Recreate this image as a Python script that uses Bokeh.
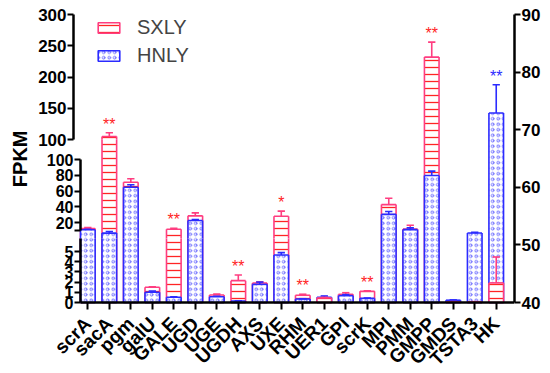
import math
from bokeh.plotting import figure
from bokeh.models import (Range1d, LinearAxis, FixedTicker, ColumnDataSource,
                          Legend, LegendItem, Title)
from bokeh.embed import file_html
from bokeh.resources import INLINE

# ---------------- data ----------------
genes = ["scrA", "sacA", "pgm", "galU", "GALE", "UGD", "UGE", "UGDH", "AXS", "UXE",
         "RHM", "UER1", "GPI", "scrK", "MPI", "PMM", "GMPP", "GMDS", "TSTA3", "HK"]
# first 14 genes read on the left (broken) FPKM axis, last 6 on the right axis
axis_side = ["left"] * 14 + ["right"] * 6
sxly = [12.8, 105.3, 71.3, 1.49, 11.9, 28.8, 0.74, 2.14, 1.91, 28.3, 0.71, 0.45, 0.80, 1.10,
        57.0, 52.75, 82.6, 40.1, 40.1, 43.4]
sxly_err = [1.2, 6.0, 4.3, 0.05, 1.3, 3.8, 0.08, 0.56, 0.12, 6.4, 0.10, 0.05, 0.16, 0.05,
            1.1, 0.65, 2.6, 0.05, 0.05, 4.5]
hnly = [11.2, 7.0, 65.0, 1.00, 0.51, 22.9, 0.57, 0.15, 1.78, 4.66, 0.34, 0.51, 0.67, 0.41,
        55.3, 52.65, 62.06, 40.4, 52.07, 72.9]
hnly_err = [0.6, 2.0, 3.0, 0.12, 0.05, 1.3, 0.05, 0.02, 0.22, 0.23, 0.03, 0.13, 0.10, 0.03,
            0.5, 0.3, 0.75, 0.05, 0.1, 4.9]
sxly_sig = ["", "**", "", "", "**", "", "", "**", "", "*", "**", "", "", "**",
            "", "", "**", "", "", ""]
hnly_sig = [""] * 19 + ["**"]

left_top_ticks = [100, 150, 200, 250, 300]
left_mid_ticks = [10, 20, 40, 60, 80, 100]
left_bot_ticks = [0, 1, 2, 3, 4, 5]
right_ticks = [40, 50, 60, 70, 80, 90]

# ---------------- styles ----------------
PINK = "#ff3d80"
RED = "#ff2424"
BLUE = "#2b2bff"
FONT = "Liberation Sans"
FH = 369    # frame height in px (frame reaches canvas bottom so axis labels are not clipped)
BASE = 71   # px from frame bottom up to the bar baseline
W = 0.68
CAP = 0.34

series_style = {
    "SXLY": dict(line=PINK, hatch="horizontal_line", hcolor=RED, hscale=7.0, hweight=1.3, sig=RED),
    "HNLY": dict(line=BLUE, hatch="ring", hcolor="#3a3aff", hscale=5.5, hweight=0.75, sig=BLUE),
}


def seg_range(v0, px0, v1, px1):
    """Linear range whose value v0 sits px0 above the baseline and v1 sits px1 above it."""
    k = (px1 - px0) / (v1 - v0)
    start = v0 - (px0 + BASE) / k
    return Range1d(start, start + FH / k)


def at_px(r, px):
    return r.start + (px + BASE) * (r.end - r.start) / FH


r_main = seg_range(40, 0, 90, 288)
r_bot = seg_range(0, 0, 5, 51)
r_mid = seg_range(20, 79.7, 100, 143)
r_top = seg_range(100, 162.7, 300, 288)

p = figure(frame_width=482, frame_height=FH, x_range=Range1d(-2.574, 19.85),
           y_range=r_main, output_backend="svg", toolbar_location=None,
           min_border_left=32, min_border_right=36, min_border_top=4, min_border_bottom=0)
p.extra_y_ranges = {"bot": r_bot, "mid": r_mid, "top": r_top}
p.xgrid.visible = False
p.ygrid.visible = False
p.outline_line_color = None

J1, J2 = 64, 162.7
left_segs = [("bot", 0, at_px(r_bot, J1)), ("mid", at_px(r_mid, J1), at_px(r_mid, J2)),
             ("top", 100, 300)]
left_limits = [at_px(r_bot, J1), 100, float("inf")]
right_segs = [("default", 40, 90)]

store = {}


def bucket(layer, rname):
    key = (layer, rname)
    if key not in store:
        store[key] = dict(fill=dict(x=[], bottom=[], top=[], hatch=[], hc=[], hs=[], hw=[]),
                          seg=dict(x0=[], y0=[], x1=[], y1=[], color=[]),
                          txt=dict(x=[], y=[], text=[], color=[]))
    return store[key]


def add_bar(layer, i, name, v, e, sig):
    st = series_style[name]
    if axis_side[i] == "left":
        segs = left_segs
        k = next(j for j, lim in enumerate(left_limits) if v <= lim)
    else:
        segs = right_segs
        k = 0
    for j in range(k + 1):
        rname, lo, hi = segs[j]
        top = v if j == k else hi
        b = bucket(layer, rname)
        f = b["fill"]
        f["x"].append(i); f["bottom"].append(lo); f["top"].append(top)
        f["hatch"].append(st["hatch"]); f["hc"].append(st["hcolor"])
        f["hs"].append(st["hscale"]); f["hw"].append(st["hweight"])
        s = b["seg"]
        for xx in (i - W / 2, i + W / 2):
            s["x0"].append(xx); s["x1"].append(xx); s["y0"].append(lo); s["y1"].append(top)
            s["color"].append(st["line"])
        if j == 0:
            s["x0"].append(i - W / 2); s["x1"].append(i + W / 2)
            s["y0"].append(lo); s["y1"].append(lo); s["color"].append(st["line"])
        if j == k:
            s["x0"].append(i - W / 2); s["x1"].append(i + W / 2)
            s["y0"].append(v); s["y1"].append(v); s["color"].append(st["line"])
            s["x0"].append(i); s["x1"].append(i)
            s["y0"].append(v); s["y1"].append(v + e); s["color"].append(st["line"])
            s["x0"].append(i - CAP / 2); s["x1"].append(i + CAP / 2)
            s["y0"].append(v + e); s["y1"].append(v + e); s["color"].append(st["line"])
            if sig:
                t = b["txt"]
                t["x"].append(i); t["y"].append(v + e); t["text"].append(sig)
                t["color"].append(st["sig"])


for i in range(len(genes)):
    bars = [("SXLY", sxly[i], sxly_err[i], sxly_sig[i]),
            ("HNLY", hnly[i], hnly_err[i], hnly_sig[i])]
    bars.sort(key=lambda b: -b[1])  # larger bar behind
    add_bar("back", i, *bars[0])
    add_bar("front", i, *bars[1])

for layer in ("back", "front"):
    for (lay, rname), b in store.items():
        if lay != layer:
            continue
        if b["fill"]["x"]:
            p.vbar(x="x", width=W, bottom="bottom", top="top", fill_color="white",
                   line_color=None, hatch_pattern="hatch", hatch_color="hc",
                   hatch_scale="hs", hatch_weight="hw",
                   source=ColumnDataSource(b["fill"]), y_range_name=rname)
        if b["seg"]["x0"]:
            p.segment(x0="x0", y0="y0", x1="x1", y1="y1", line_color="color", line_width=1.6,
                      source=ColumnDataSource(b["seg"]), y_range_name=rname)

for (lay, rname), b in store.items():
    if b["txt"]["x"]:
        p.text(x="x", y="y", text="text", text_color="color", text_align="center",
               text_baseline="bottom", text_font_size="16px", text_font={"value": FONT},
               source=ColumnDataSource(b["txt"]), y_range_name=rname)


# ---------------- axes ----------------
def style_axis(ax, size="16px"):
    ax.axis_line_width = 2.5
    ax.axis_line_color = "black"
    ax.major_tick_line_width = 2
    ax.major_tick_out = 6
    ax.major_tick_in = 0
    ax.minor_tick_line_color = None
    ax.major_label_text_font = FONT
    ax.major_label_text_font_style = "bold"
    ax.major_label_text_font_size = size
    ax.major_label_text_color = "black"
    ax.major_label_standoff = 1


p.yaxis[0].visible = False
p.add_layout(Title(text="FPKM", align="right", offset=126, standoff=4,
                   text_font=FONT, text_font_style="bold", text_font_size="20px",
                   text_color="black"), "left")

ax_top = LinearAxis(y_range_name="top", fixed_location=-0.666, bounds=(100, 300),
                    ticker=FixedTicker(ticks=left_top_ticks))
style_axis(ax_top, "17px")
ax_mid = LinearAxis(y_range_name="mid", fixed_location=-0.34, bounds=(10, 100),
                    ticker=FixedTicker(ticks=left_mid_ticks))
style_axis(ax_mid, "16px")
ax_mid.major_label_overrides = {10: ""}
ax_bot = LinearAxis(y_range_name="bot", fixed_location=-0.34, bounds=(0, at_px(r_bot, J1)),
                    ticker=FixedTicker(ticks=left_bot_ticks))
style_axis(ax_bot, "16px")
for ax in (ax_top, ax_mid, ax_bot):
    p.add_layout(ax, "left")

ax_r = LinearAxis(ticker=FixedTicker(ticks=right_ticks), bounds=(40, 90))
style_axis(ax_r, "17px")
p.add_layout(ax_r, "right")

xa = p.xaxis[0]
style_axis(xa, "19px")
xa.fixed_location = 40
xa.ticker = FixedTicker(ticks=list(range(len(genes))))
xa.major_label_overrides = {i: g for i, g in enumerate(genes)}
xa.major_label_orientation = math.pi / 4
xa.major_label_standoff = 11
xa.major_tick_out = 7
xa.bounds = (-0.34, 19.85)

# ---------------- legend ----------------
r_s = p.vbar(x=[0], top=[sxly[0]], width=W, fill_color="white", line_color=PINK, line_width=1.6,
             hatch_pattern="horizontal_line", hatch_color=RED, hatch_scale=7.0, hatch_weight=1.3,
             y_range_name="mid", visible=False)
r_h = p.vbar(x=[0], top=[hnly[0]], width=W, fill_color="white", line_color=BLUE, line_width=1.6,
             hatch_pattern="ring", hatch_color="#3a3aff", hatch_scale=5.5, hatch_weight=0.75,
             y_range_name="mid", visible=False)
legend = Legend(items=[LegendItem(label="SXLY", renderers=[r_s]),
                       LegendItem(label="HNLY", renderers=[r_h])],
                location=(63, 306), glyph_width=27, glyph_height=13, label_standoff=15,
                label_text_font=FONT, label_text_font_size="20px", spacing=5, padding=0,
                margin=0, border_line_color=None, background_fill_alpha=0)
p.add_layout(legend)

open("out.html", "w").write(file_html(p, INLINE))
